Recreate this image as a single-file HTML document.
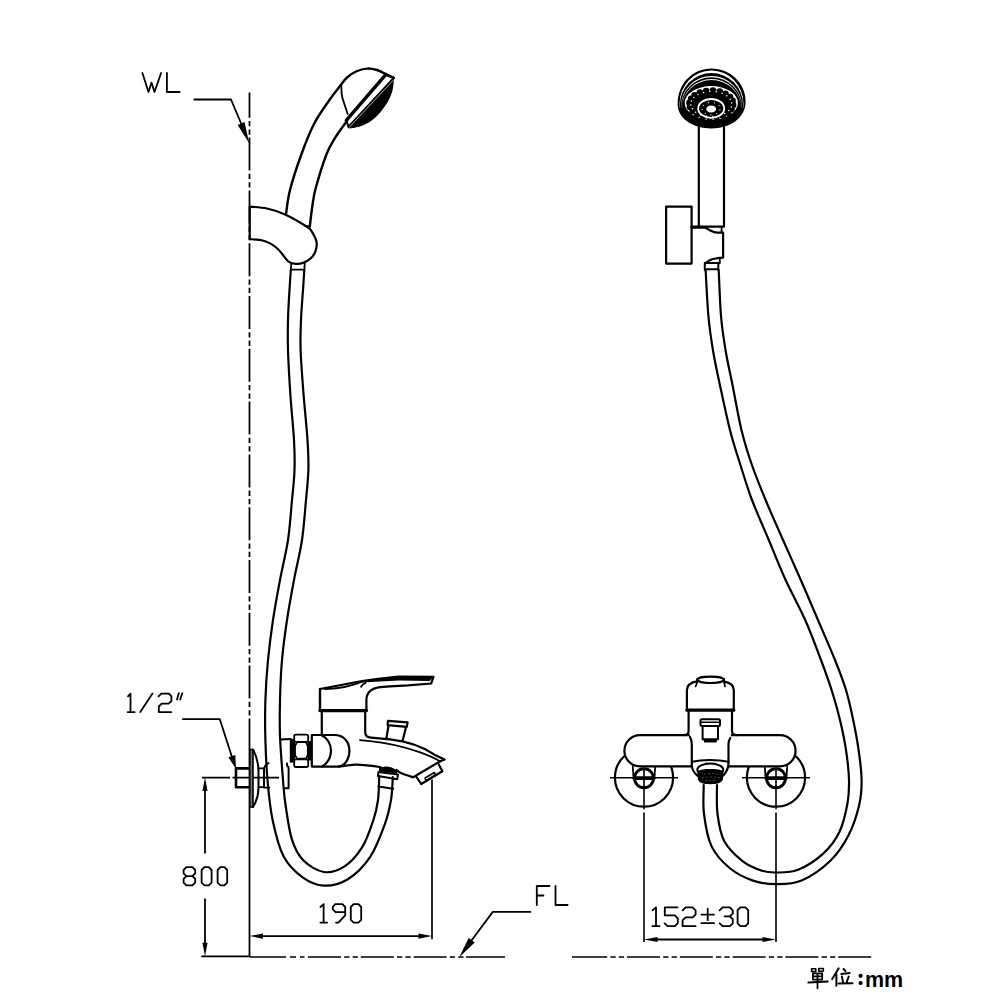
<!DOCTYPE html>
<html><head><meta charset="utf-8"><style>
html,body{margin:0;padding:0;background:#fff;width:1000px;height:1000px;overflow:hidden}
svg{display:block}
</style></head><body>
<svg width="1000" height="1000" viewBox="0 0 1000 1000" stroke-linecap="round" stroke-linejoin="round">
<rect width="1000" height="1000" fill="#fff"/>
<path d="M249.5,92.5V117.8M249.5,121.0V126.3M249.5,129.4V134.7M249.5,137.6V170.6M249.5,173.8V179.1M249.5,182.2V187.5M249.5,190.4V223.4M249.5,226.6V231.9M249.5,235.0V240.3M249.5,243.2V276.2M249.5,279.4V284.7M249.5,287.8V293.1M249.5,296.0V329.0M249.5,332.2V337.5M249.5,340.6V345.9M249.5,348.8V381.8M249.5,385.0V390.3M249.5,393.4V398.7M249.5,401.6V434.6M249.5,437.8V443.1M249.5,446.2V451.5M249.5,454.4V487.4M249.5,490.6V495.9M249.5,499.0V504.3M249.5,507.2V540.2M249.5,543.4V548.7M249.5,551.8V557.1M249.5,560.0V593.0M249.5,596.2V601.5M249.5,604.6V609.9M249.5,612.8V645.8M249.5,649.0V654.3M249.5,657.4V662.7M249.5,665.6V698.6M249.5,701.8V707.1M249.5,710.2V715.5M249.5,718.4V749.0" fill="none" stroke="#000" stroke-width="1.8" stroke-linecap="butt"/>
<path d="M249.5,749V957" fill="none" stroke="#000" stroke-width="1.8" stroke-linecap="butt"/>
<path d="M142.4,73.0 L148.5,92.0 L151.5,82.6 L154.5,92.0 L161.1,73.0" fill="none" stroke="#000" stroke-width="1.8" />
<path d="M166.9,73.0 L166.9,92.0 L179.6,92.0" fill="none" stroke="#000" stroke-width="1.8" />
<path d="M194.3,99.5 L231.0,99.5 L246.0,135.0" fill="none" stroke="#000" stroke-width="1.8" />
<path d="M249.3,143.4 L237.7,124.9 L244.5,122.1Z" fill="#000" stroke="none" />
<path d="M286.0,214.4 C286.7,210.3 287.4,200.1 290.0,190.0 C292.6,179.9 297.5,165.0 301.5,154.0 C305.5,143.0 309.4,133.0 314.0,124.0 C318.6,115.0 325.1,106.3 329.4,100.0 C333.7,93.7 337.1,89.8 340.0,86.0 C342.9,82.2 344.3,79.9 347.0,77.5 C349.7,75.1 352.7,73.0 356.0,71.5 C359.3,70.0 363.5,68.8 367.0,68.6 C370.5,68.3 373.8,69.1 377.0,70.0 C380.2,70.9 383.2,72.9 386.0,74.2 C388.8,75.5 392.6,77.4 393.9,78.0" fill="none" stroke="#000" stroke-width="2.4" />
<path d="M309.8,226.5 C310.2,222.9 311.5,211.6 312.5,205.0 C313.5,198.4 313.6,195.5 316.0,187.0 C318.4,178.5 323.4,162.2 326.6,154.0 C329.8,145.8 331.6,143.5 335.0,138.0 C338.4,132.5 345.0,123.8 347.0,121.0" fill="none" stroke="#000" stroke-width="2.4" />
<path d="M341.4,86.0 C341.5,87.8 341.1,91.8 342.1,96.5 C343.2,101.2 346.8,111.1 347.7,114.0" fill="none" stroke="#000" stroke-width="1.8" />
<path d="M385.5,74.8 L346.3,120.3" fill="none" stroke="#000" stroke-width="3.4" />
<path d="M393.5,78.3 L348.6,126.6" fill="none" stroke="#000" stroke-width="2.0" />
<path d="M385.5,74.8 L393.9,78 M346.3,120.3 L348.8,127.5" fill="none" stroke="#000" stroke-width="2.0" />
<path d="M393.9,80.0 C393.7,81.7 393.4,86.8 392.6,90.0 C391.8,93.2 390.9,95.9 389.0,99.5 C387.1,103.1 384.0,107.9 381.0,111.5 C378.0,115.1 374.4,118.5 371.0,121.0 C367.6,123.5 363.9,125.0 360.5,126.2 C357.1,127.4 352.2,128.0 350.5,128.4 L349.5,127 L393,80Z" fill="#000" stroke="none" />
<path d="M393,80.5 L350,126.5" fill="none" stroke="#fff" stroke-width="0.6" />
<path d="M249.7,206.7 C252.6,207.0 261.1,207.2 267.0,208.5 C272.9,209.8 278.4,211.4 285.0,214.4 C291.6,217.4 302.1,223.6 306.6,226.5 C311.1,229.4 310.4,229.3 312.0,231.9 C313.6,234.5 315.9,238.7 316.5,241.8 C317.1,245.0 316.5,248.1 315.6,250.8 C314.7,253.5 313.2,256.0 311.1,258.0 C309.0,260.0 305.6,261.9 303.0,262.9 C300.4,263.9 298.2,264.1 295.8,263.9 C293.4,263.7 290.7,263.0 288.6,261.6 C286.5,260.2 285.0,257.4 283.2,255.3 C281.4,253.2 279.9,250.9 277.8,249.0 C275.7,247.1 273.2,245.0 270.6,243.6 C268.1,242.2 266.0,241.2 262.5,240.5 C259.0,239.8 251.8,239.3 249.7,239.1 L249.7,206.7" fill="none" stroke="#000" stroke-width="2.2" />
<path d="M305.5,226 L309.8,226.5" fill="none" stroke="#000" stroke-width="2.2" />
<path d="M291.3,263.4 L290.8,270 M304.8,263.4 L304.3,270 M291,269.7 L304.5,269.7" fill="none" stroke="#000" stroke-width="1.8" />
<path d="M290.8,270.0 C290.6,273.3 290.0,281.7 289.5,290.0 C289.0,298.3 288.2,310.0 288.0,320.0 C287.8,330.0 287.6,337.5 288.0,350.0 C288.4,362.5 289.4,380.0 290.4,395.0 C291.4,410.0 293.3,427.5 294.0,440.0 C294.7,452.5 294.8,460.0 294.5,470.0 C294.2,480.0 293.1,488.3 292.0,500.0 C290.9,511.7 290.0,526.7 288.0,540.0 C286.0,553.3 282.5,566.7 280.0,580.0 C277.5,593.3 275.0,606.7 273.0,620.0 C271.0,633.3 269.3,646.7 268.0,660.0 C266.7,673.3 265.8,686.7 265.4,700.0 C265.0,713.3 265.0,726.7 265.4,740.0 C265.8,753.3 266.3,766.7 267.5,780.0 C268.7,793.3 269.9,807.2 272.6,820.0 C275.3,832.8 278.7,847.2 283.8,856.8 C288.9,866.4 296.3,872.8 303.0,877.6 C309.7,882.4 316.3,885.3 323.8,885.6 C331.3,885.9 340.1,884.0 347.8,879.2 C355.5,874.4 364.1,865.9 370.2,856.8 C376.3,847.7 381.1,834.3 384.6,824.8 C388.1,815.3 389.6,808.0 391.0,800.0 C392.4,792.0 392.5,780.8 392.8,777.0" fill="none" stroke="#000" stroke-width="2.2" />
<path d="M304.3,270.0 C304.1,273.3 303.6,281.7 303.0,290.0 C302.4,298.3 301.4,310.0 301.0,320.0 C300.6,330.0 300.2,337.5 300.6,350.0 C301.0,362.5 302.5,380.0 303.6,395.0 C304.8,410.0 306.7,427.5 307.5,440.0 C308.3,452.5 308.6,460.0 308.4,470.0 C308.1,480.0 307.1,488.3 306.0,500.0 C304.9,511.7 304.0,526.7 302.0,540.0 C300.0,553.3 296.5,566.7 294.0,580.0 C291.5,593.3 289.0,606.7 287.0,620.0 C285.0,633.3 283.2,646.7 282.0,660.0 C280.8,673.3 280.3,687.3 280.0,700.0 C279.7,712.7 279.5,722.7 280.0,736.0 C280.5,749.3 282.1,768.7 283.0,780.0 C283.9,791.3 283.9,794.1 285.4,804.0 C286.9,813.9 288.9,829.9 291.8,839.2 C294.7,848.5 297.7,854.5 303.0,860.0 C308.3,865.5 316.9,870.9 323.8,872.0 C330.7,873.1 338.2,870.5 344.6,866.4 C351.0,862.3 357.4,854.9 362.2,847.2 C367.0,839.5 370.8,827.9 373.4,820.0 C376.0,812.1 377.0,807.3 378.0,800.0 C379.0,792.7 379.0,780.0 379.2,776.0" fill="none" stroke="#000" stroke-width="2.2" />
<path d="M128.0,696.4 L130.5,693.6 L130.5,712.1 M127.7,712.1H134.7" fill="none" stroke="#000" stroke-width="1.8" />
<path d="M140.3,712.1 L152.5,693.6" fill="none" stroke="#000" stroke-width="1.8" />
<path d="M158.5,696.4 L161.3,693.6 L169.0,693.6 L171.4,696.4 L171.4,701.0 L168.6,703.7 L161.6,703.7 L158.8,706.5 L158.8,712.1 L171.4,712.1" fill="none" stroke="#000" stroke-width="1.8" />
<path d="M177,699.5 L178.8,693.2 M180.2,699.5 L182.3,693.2" fill="none" stroke="#000" stroke-width="1.8" />
<path d="M182.9,719.2 L219.8,719.2 L232.0,757.0" fill="none" stroke="#000" stroke-width="1.8" />
<path d="M236.0,769.0 L228.3,757.2 L235.3,754.9Z" fill="#000" stroke="none" />
<path d="M202,777.7H230 M232.5,777.7H279" fill="none" stroke="#000" stroke-width="1.7" stroke-linecap="butt"/>
<path d="M249.5,768.4 H236 V787.2 H249.5" fill="none" stroke="#000" stroke-width="2.6" />
<rect x="249.8" y="749.5" width="3.2" height="57.5" fill="#777" stroke="#000" stroke-width="1.6"/>
<path d="M253,749.5 C256,755 258.5,762 258.5,772 L258.5,788 C258.5,796 256,802 253,807" fill="none" stroke="#000" stroke-width="2.0" />
<path d="M258.5,768.4 H264 V787.2 H258.5" fill="none" stroke="#000" stroke-width="1.8" />
<path d="M264,787.6 V768.2 C265,765.5 266.5,763.8 268.6,763.2 M264,787.6 H269.3" fill="none" stroke="#000" stroke-width="1.8" />
<path d="M280.6,739.4 L291,739 M287,763.4 L287,765.5 L288.6,767.4 L288.6,788.2 L284.6,788.2" fill="none" stroke="#000" stroke-width="2.0" />
<path d="M289.8,739 H295 V762.6 H289.8Z" fill="#000" stroke="none" />
<path d="M307.6,741 H312 V760.5 H307.6Z" fill="#000" stroke="none" />
<path d="M296,734.6 H306.5 Q308.2,734.6 308.2,736.5 V740 Q308.2,741.8 306.5,741.8 H296 Q294.2,741.8 294.2,740 V736.5 Q294.2,734.6 296,734.6Z" fill="none" stroke="#000" stroke-width="1.8" />
<path d="M297,742.2 H306 L307.8,746 V755 L306,758.6 H297 L295,755 V746Z" fill="none" stroke="#000" stroke-width="1.8" />
<path d="M296,759.4 H306.5 Q308.2,759.4 308.2,761.2 V765.2 Q308.2,767 306.5,767 H296 Q294.2,767 294.2,765.2 V761.2 Q294.2,759.4 296,759.4Z" fill="none" stroke="#000" stroke-width="1.8" />
<path d="M311.8,735 H334.2 C345,735 349.4,743 349.4,750.6 C349.4,759 345,766.6 337,766.6 H311.8Z" fill="none" stroke="#000" stroke-width="2.2" />
<path d="M321.4,735 C327,738 331,744 331,750.6 C331,758 327,763.5 322,766.6" fill="none" stroke="#000" stroke-width="2.2" />
<path d="M362,680.6 L398.9,676.5 L433.5,676.9 L429.5,681 L398.9,680.6 L380,681.5 L362,682.4Z" fill="#000" stroke="none" />
<path d="M320.0,689.0 L362.0,681.0 L380.0,678.6 L398.9,676.5 L433.5,676.9 L431.1,683.5 L408.0,685.3 L390.0,686.3 L380.0,687.2" fill="none" stroke="#000" stroke-width="2.2" />
<path d="M380,687.2 C375,688 372.4,689 370,691 C367,694 366.4,697 366.4,700 V710.6" fill="none" stroke="#000" stroke-width="2.2" />
<path d="M320,689 V710.6" fill="none" stroke="#000" stroke-width="2.4" />
<path d="M320,710.6 H366.4" fill="none" stroke="#000" stroke-width="3.4" />
<path d="M325,689.2 C338,688.4 352,686.2 362,681.6 M361,686.8 C362,685 363.5,683.5 365.5,682.8" fill="none" stroke="#000" stroke-width="1.8" />
<path d="M321.8,710.6 V735" fill="none" stroke="#000" stroke-width="2.2" />
<path d="M365.2,710.6 V732 C365.2,735.5 367.5,737.4 371,737.6 L390,739.4 C405,741 420,745 434,754.4 L444.4,759.6" fill="none" stroke="#000" stroke-width="2.2" />
<path d="M360,740.2 L370,741.2 C386,742.8 402,746.4 418,751.6 C428,755 434,757.5 440.4,761.6" fill="none" stroke="#000" stroke-width="1.8" />
<path d="M444.4,759.6 L439.6,761.6 L413.2,777.2" fill="none" stroke="#000" stroke-width="2.2" />
<path d="M416.4,776.8 L421.2,784.0 L442.4,771.2 L438.8,764.4" fill="none" stroke="#000" stroke-width="2.2" />
<path d="M425.0,778.0 L434.5,772.5 L435.5,775.0 L426.0,780.6Z" fill="none" stroke="#000" stroke-width="1.6" />
<path d="M339.0,766.6 C341.7,766.3 349.8,764.8 355.0,764.6 C360.2,764.4 365.8,765.2 370.0,765.6 C374.2,766.0 378.7,766.9 380.4,767.2" fill="none" stroke="#000" stroke-width="2.2" />
<path d="M396.4,770.0 C397.3,770.6 399.2,772.4 402.0,773.6 C404.8,774.8 411.3,776.6 413.2,777.2" fill="none" stroke="#000" stroke-width="2.2" />
<path d="M388.0,720.8 L407.6,722.4 L406.8,726.8 L387.6,725.2Z" fill="none" stroke="#000" stroke-width="2.2" />
<path d="M388.5,725.5 L386.4,738.5 M406,727 L402.8,740" fill="none" stroke="#000" stroke-width="2.2" />
<path d="M379,768.5 C383,765.8 391,765.5 397.5,771 L397,773.5 L379,771.5Z" fill="#000" stroke="none" />
<path d="M378.4,772 L398,774.4 L397.2,779.2 L378,776Z" fill="none" stroke="#000" stroke-width="2.0" />
<path d="M378.3,786.4 L393.2,788.8" fill="none" stroke="#000" stroke-width="2.0" />
<path d="M432,779.6 V939.2" fill="none" stroke="#000" stroke-width="1.7" stroke-linecap="butt"/>
<path d="M205,790 V853.6 M205,898.4 V943" fill="none" stroke="#000" stroke-width="1.8" stroke-linecap="butt"/>
<path d="M205.0,777.6 L207.6,791.1 L202.4,791.1Z" fill="#000" stroke="none" />
<path d="M205.0,956.3 L202.4,942.8 L207.6,942.8Z" fill="#000" stroke="none" />
<path d="M202,956.3 H249.5" fill="none" stroke="#000" stroke-width="1.8" />
<path d="M186.4,867.2 L192.4,867.2 L195.2,870.0 L195.2,873.3 L192.4,876.1 L186.4,876.1 L183.6,873.3 L183.6,870.0Z M186.4,876.1 L192.4,876.1 L195.2,878.9 L195.2,882.6 L192.4,885.4 L186.4,885.4 L183.6,882.6 L183.6,878.9Z" fill="none" stroke="#000" stroke-width="1.8" />
<path d="M204.4,867.2 L208.8,867.2 L211.6,870.0 L211.6,882.6 L208.8,885.4 L204.4,885.4 L201.6,882.6 L201.6,870.0Z" fill="none" stroke="#000" stroke-width="1.8" />
<path d="M220.4,867.2 L224.4,867.2 L227.2,870.0 L227.2,882.6 L224.4,885.4 L220.4,885.4 L217.6,882.6 L217.6,870.0Z" fill="none" stroke="#000" stroke-width="1.8" />
<path d="M262,936.1 H419" fill="none" stroke="#000" stroke-width="1.8" />
<path d="M249.5,936.1 L263.0,933.5 L263.0,938.7Z" fill="#000" stroke="none" />
<path d="M432.0,936.1 L418.5,938.7 L418.5,933.5Z" fill="#000" stroke="none" />
<path d="M320.4,907.0 L323.6,904.2 L323.6,922.6 M320.4,922.6H327.2" fill="none" stroke="#000" stroke-width="1.8" />
<path d="M345.2,912.2 L335.6,912.2 L332.8,909.4 L332.8,907.0 L335.2,904.2 L342.4,904.2 L345.2,907.0 L345.2,915.4 L338.4,922.6 L336.0,922.6" fill="none" stroke="#000" stroke-width="1.8" />
<path d="M353.6,904.2 L358.4,904.2 L361.2,907.0 L361.2,919.8 L358.4,922.6 L353.6,922.6 L350.8,919.8 L350.8,907.0Z" fill="none" stroke="#000" stroke-width="1.8" />
<path d="M536.8,905 V886 H549.5 M536.8,895.5 H543.4" fill="none" stroke="#000" stroke-width="1.8" />
<path d="M555.5,886 V905 H567.6" fill="none" stroke="#000" stroke-width="1.8" />
<path d="M530.4,911.9 L492.8,911.9 L470.0,942.5" fill="none" stroke="#000" stroke-width="1.8" />
<path d="M459.2,957.2 L468.7,938.1 L474.7,942.5Z" fill="#000" stroke="none" />
<path d="M249.5,957H286.0M290.0,957H296.0M300.0,957H304.5M308.0,957.0H341.0M344.2,957.0H349.5M352.6,957.0H357.9M360.8,957.0H393.8M397.0,957.0H402.3M405.4,957.0H410.7M413.6,957.0H446.6M449.8,957.0H455.1M458.2,957.0H463.5M466.4,957.0H499.4M502.6,957.0H505.0M466,957H505" fill="none" stroke="#000" stroke-width="1.5" stroke-linecap="butt"/>
<path d="M574.2,957.0H607.2M610.4,957.0H615.7M618.8,957.0H624.1M627.0,957.0H660.0M663.2,957.0H668.5M671.6,957.0H676.9M679.8,957.0H712.8M716.0,957.0H721.3M724.4,957.0H729.7M732.6,957.0H765.6M768.8,957.0H774.1M777.2,957.0H782.5M785.4,957.0H818.4M821.6,957.0H826.9M830.0,957.0H835.3M838.2,957.0H871.2M572,957H574.2" fill="none" stroke="#000" stroke-width="1.5" stroke-linecap="butt"/>
<path d="M677.6,103.8 C677.6,83 693,68.4 711.5,68.4 C730,68.4 745.6,83 745.6,101.5 C745.6,118 730,128.4 711.5,128.4 C693,128.4 677.6,119 677.6,103.8Z" fill="#000" stroke="none" />
<clipPath id="hc"><path d="M677.6,103.8 C677.6,83 693,68.4 711.5,68.4 C730,68.4 745.6,83 745.6,101.5 C745.6,118 730,128.4 711.5,128.4 C693,128.4 677.6,119 677.6,103.8Z"/></clipPath>
<clipPath id="hc2"><path d="M660,50 H760 V108 H660Z"/></clipPath>
<g clip-path="url(#hc)"><g clip-path="url(#hc2)">
<path d="M679.50,103.80 A32.00,33.40 0 1 0 743.50,103.80 A32.00,33.40 0 1 0 679.50,103.80ZM679.90,105.00 A31.60,32.00 0 1 0 743.10,105.00 A31.60,32.00 0 1 0 679.90,105.00Z" fill="#fff" fill-rule="evenodd"/>
<path d="M680.90,106.50 A30.60,30.50 0 1 0 742.10,106.50 A30.60,30.50 0 1 0 680.90,106.50ZM681.10,107.20 A30.40,30.00 0 1 0 741.90,107.20 A30.40,30.00 0 1 0 681.10,107.20Z" fill="#fff" fill-rule="evenodd"/>
<path d="M681.90,108.00 A29.60,29.00 0 1 0 741.10,108.00 A29.60,29.00 0 1 0 681.90,108.00ZM682.05,108.50 A29.45,28.50 0 1 0 740.95,108.50 A29.45,28.50 0 1 0 682.05,108.50Z" fill="#fff" fill-rule="evenodd"/>
</g></g>
<ellipse cx="711.3" cy="102.9" rx="26.6" ry="16.8" fill="#fff"/>
<ellipse cx="711.3" cy="104.6" rx="21.0" ry="13.2" fill="#000"/>
<circle cx="733.1" cy="105.1" r="3.3" fill="#000"/>
<circle cx="731.5" cy="109.1" r="3.3" fill="#000"/>
<circle cx="728.0" cy="112.7" r="3.3" fill="#000"/>
<circle cx="722.7" cy="115.4" r="3.3" fill="#000"/>
<circle cx="716.4" cy="117.0" r="3.3" fill="#000"/>
<circle cx="709.6" cy="117.4" r="3.3" fill="#000"/>
<circle cx="702.9" cy="116.4" r="3.3" fill="#000"/>
<circle cx="697.1" cy="114.2" r="3.3" fill="#000"/>
<circle cx="692.6" cy="111.0" r="3.3" fill="#000"/>
<circle cx="690.0" cy="107.1" r="3.3" fill="#000"/>
<circle cx="689.5" cy="102.9" r="3.3" fill="#000"/>
<circle cx="691.1" cy="98.9" r="3.3" fill="#000"/>
<circle cx="694.6" cy="95.3" r="3.3" fill="#000"/>
<circle cx="699.9" cy="92.6" r="3.3" fill="#000"/>
<circle cx="706.2" cy="91.0" r="3.3" fill="#000"/>
<circle cx="713.0" cy="90.6" r="3.3" fill="#000"/>
<circle cx="719.7" cy="91.6" r="3.3" fill="#000"/>
<circle cx="725.5" cy="93.8" r="3.3" fill="#000"/>
<circle cx="730.0" cy="97.0" r="3.3" fill="#000"/>
<circle cx="732.6" cy="100.9" r="3.3" fill="#000"/>
<circle cx="731.2" cy="106.9" r="0.75" fill="#fff"/>
<circle cx="728.8" cy="110.6" r="0.75" fill="#fff"/>
<circle cx="724.6" cy="113.6" r="0.75" fill="#fff"/>
<circle cx="719.1" cy="115.6" r="0.75" fill="#fff"/>
<circle cx="712.9" cy="116.6" r="0.75" fill="#fff"/>
<circle cx="706.5" cy="116.3" r="0.75" fill="#fff"/>
<circle cx="700.6" cy="114.7" r="0.75" fill="#fff"/>
<circle cx="695.7" cy="112.2" r="0.75" fill="#fff"/>
<circle cx="692.4" cy="108.8" r="0.75" fill="#fff"/>
<circle cx="690.9" cy="105.0" r="0.75" fill="#fff"/>
<circle cx="691.4" cy="101.1" r="0.75" fill="#fff"/>
<circle cx="693.8" cy="97.4" r="0.75" fill="#fff"/>
<circle cx="698.0" cy="94.4" r="0.75" fill="#fff"/>
<circle cx="703.5" cy="92.4" r="0.75" fill="#fff"/>
<circle cx="709.7" cy="91.4" r="0.75" fill="#fff"/>
<circle cx="716.1" cy="91.7" r="0.75" fill="#fff"/>
<circle cx="722.0" cy="93.3" r="0.75" fill="#fff"/>
<circle cx="726.9" cy="95.8" r="0.75" fill="#fff"/>
<circle cx="730.2" cy="99.2" r="0.75" fill="#fff"/>
<circle cx="731.7" cy="103.0" r="0.75" fill="#fff"/>
<ellipse cx="711.2" cy="108.4" rx="13.0" ry="9.4" fill="none" stroke="#fff" stroke-width="1.8"/>
<ellipse cx="711.2" cy="109.0" rx="5.0" ry="3.5" fill="#fff"/>
<circle cx="720.0" cy="109.9" r="0.6" fill="#fff"/>
<circle cx="716.7" cy="113.6" r="0.6" fill="#fff"/>
<circle cx="710.9" cy="114.9" r="0.6" fill="#fff"/>
<circle cx="705.2" cy="113.3" r="0.6" fill="#fff"/>
<circle cx="702.3" cy="109.5" r="0.6" fill="#fff"/>
<circle cx="703.6" cy="105.3" r="0.6" fill="#fff"/>
<circle cx="708.4" cy="102.6" r="0.6" fill="#fff"/>
<circle cx="714.6" cy="102.8" r="0.6" fill="#fff"/>
<circle cx="719.1" cy="105.6" r="0.6" fill="#fff"/>
<path d="M698.8,127 V226.5 M724,127 V226.5 M691.6,226.7 H724" fill="none" stroke="#000" stroke-width="2.2" />
<path d="M666.1,206.7 H691.6 V263.6 H666.1Z" fill="none" stroke="#000" stroke-width="2.2" />
<path d="M691.6,227.6 H704.8 C707,228 708,229.5 710.2,230.6 C713,232 715,232.7 717.4,232.7 L723.1,232.6 V257.6 L717.4,258.2 C715,258.6 712.5,259 710.2,260 C708,261 707,262.5 705.4,263" fill="none" stroke="#000" stroke-width="2.2" />
<path d="M721.6,226.7 V232 M719.8,258.5 V263.3" fill="none" stroke="#000" stroke-width="1.8" />
<path d="M704.8,263 H718.3 M704.8,269.3 H718.3 M704.8,263 V270 M718.3,263 V270" fill="none" stroke="#000" stroke-width="2.0" />
<path d="M705.6,270.0 C706.1,277.7 707.2,302.6 708.4,316.0 C709.6,329.4 711.1,339.0 713.0,350.5 C714.9,362.0 717.0,371.6 719.9,385.0 C722.8,398.4 726.8,417.6 730.2,431.0 C733.7,444.4 737.0,454.0 740.6,465.5 C744.2,477.0 747.3,487.6 752.0,500.0 C756.7,512.4 763.2,526.7 768.8,540.0 C774.4,553.3 779.5,566.7 785.6,580.0 C791.7,593.3 799.3,606.7 805.2,620.0 C811.1,633.3 816.6,648.3 821.0,660.0 C825.4,671.7 828.4,680.0 831.6,690.0 C834.8,700.0 837.6,710.0 840.0,720.0 C842.4,730.0 844.5,740.0 846.0,750.0 C847.5,760.0 848.8,771.1 849.0,780.0 C849.2,788.9 849.1,794.5 847.5,803.2 C845.9,811.9 843.4,823.6 839.4,832.0 C835.4,840.4 830.1,847.3 823.2,853.6 C816.3,859.9 805.8,866.6 798.0,869.8 C790.2,872.9 782.4,872.4 776.4,872.5 C770.4,872.6 767.7,872.7 762.0,870.7 C756.3,868.8 748.5,865.8 742.2,860.8 C735.9,855.8 728.3,848.8 724.2,841.0 C720.1,833.2 718.7,823.3 717.5,814.0 C716.3,804.7 717.1,789.8 717.0,785.0" fill="none" stroke="#000" stroke-width="2.2" />
<path d="M718.7,270.0 C719.1,277.7 719.9,302.6 721.0,316.0 C722.1,329.4 723.7,339.0 725.6,350.5 C727.5,362.0 729.8,371.6 732.5,385.0 C735.2,398.4 738.4,417.6 741.7,431.0 C745.0,444.4 748.1,454.0 752.1,465.5 C756.1,477.0 760.5,487.6 765.6,500.0 C770.8,512.4 777.1,526.7 783.0,540.0 C788.9,553.3 795.0,566.7 800.8,580.0 C806.6,593.3 812.3,606.7 818.0,620.0 C823.7,633.3 830.3,648.3 835.0,660.0 C839.7,671.7 843.0,680.0 846.0,690.0 C849.0,700.0 851.1,710.0 853.2,720.0 C855.3,730.0 857.2,740.0 858.6,750.0 C860.0,760.0 861.5,770.8 861.6,780.0 C861.7,789.2 861.4,795.7 859.2,805.0 C857.0,814.3 853.2,826.3 848.4,835.6 C843.6,844.9 838.2,853.3 830.4,860.8 C822.6,868.3 810.6,876.7 801.6,880.6 C792.6,884.5 784.5,884.2 776.4,884.2 C768.3,884.2 760.8,883.3 753.0,880.6 C745.2,877.9 736.5,873.7 729.6,868.0 C722.7,862.3 715.9,855.4 711.6,846.4 C707.3,837.4 705.3,824.2 704.0,814.0 C702.7,803.8 703.8,789.8 703.7,785.0" fill="none" stroke="#000" stroke-width="2.2" />
<circle cx="644.0" cy="777.6" r="29.1" fill="none" stroke="#000" stroke-width="2.2"/>
<circle cx="776.0" cy="777.6" r="29.1" fill="none" stroke="#000" stroke-width="2.2"/>
<path d="M640,735.1 H780 A15.6,15.6 0 0 1 780,766.3 H640 A15.6,15.6 0 0 1 640,735.1Z" fill="#fff" stroke="#000" stroke-width="2.2" />
<path d="M689.7,711 V737.4 H730.9 V711Z" fill="#fff" stroke="none"/>
<path d="M684,735.1 C687,735.1 688.6,733.5 688.6,731 V711 M737,735.1 C734,735.1 732,733.5 732,731 V711" fill="none" stroke="#000" stroke-width="2.2" />
<path d="M686.9,710.2 V690 C686.9,685.5 691,682.5 697,681.4 M723.8,681.4 C729.5,682.5 733.8,685.5 733.8,690 V710.2" fill="none" stroke="#000" stroke-width="2.2" />
<path d="M686.9,710.2 H733.8" fill="none" stroke="#000" stroke-width="3.2" />
<path d="M697.4,678.6 C697.5,682 697,684 695.6,686.4 M724,678.6 C724,682 724.3,684 725,686.4" fill="none" stroke="#000" stroke-width="1.8" />
<ellipse cx="710.6" cy="679.8" rx="13.2" ry="3.2" fill="none" stroke="#000" stroke-width="2.2"/>
<path d="M702,719.2 H718.5 Q720,719.2 720,720.8 V724.5 Q720,726 718.5,726 H702 Q700.5,726 700.5,724.5 V720.8 Q700.5,719.2 702,719.2Z" fill="none" stroke="#000" stroke-width="2.0" />
<path d="M701.5,722.3 H719" fill="none" stroke="#000" stroke-width="1.4" />
<path d="M702.6,726 V739.2 H718 V726" fill="none" stroke="#000" stroke-width="2.0" />
<path d="M703.4,739.2 H717.2 L716.5,742.4 H704.2Z" fill="#000" stroke="none" />
<path d="M691.8,744 V765 C692,770 694,773 697.4,775.5 L723.3,775.5 C726.5,773 728.5,770 728.5,762.9 V744Z" fill="#fff"/>
<path d="M690,737 C691.2,739 691.8,741.5 691.8,744 V765 C692,770 694,773 697.4,775.5" fill="none" stroke="#000" stroke-width="2.2" />
<path d="M730.3,738 C729,740 728.5,742 728.5,744 V762.9 C728.5,768 726.5,772 723.3,775.5" fill="none" stroke="#000" stroke-width="2.2" />
<path d="M692,761.8 C698,760.4 704,760 710,760 C716,760 722,760.4 728.4,761.8" fill="none" stroke="#000" stroke-width="2.0" />
<ellipse cx="710.3" cy="769.8" rx="13" ry="6.2" fill="none" stroke="#000" stroke-width="2.0"/>
<path d="M697.4,771.5 C700,769.5 705,769 710.3,769 C716,769 721,769.5 723.4,771.5 L723,779 C722,782.5 718,784.2 710.3,784.2 C702.5,784.2 698.5,782.5 697.8,779Z" fill="#000" stroke="none" />
<circle cx="705" cy="774" r="0.6" fill="#888"/>
<circle cx="709" cy="773.5" r="0.6" fill="#888"/>
<circle cx="713" cy="773.5" r="0.6" fill="#888"/>
<circle cx="717" cy="774" r="0.6" fill="#888"/>
<circle cx="703" cy="777.5" r="0.6" fill="#888"/>
<circle cx="707" cy="777" r="0.6" fill="#888"/>
<circle cx="711" cy="777" r="0.6" fill="#888"/>
<circle cx="715" cy="777" r="0.6" fill="#888"/>
<circle cx="719" cy="777.5" r="0.6" fill="#888"/>
<circle cx="706" cy="780.5" r="0.6" fill="#888"/>
<circle cx="710" cy="780.5" r="0.6" fill="#888"/>
<circle cx="714" cy="780.5" r="0.6" fill="#888"/>
<path d="M632.8,766.5 L633.4,776 M655.2,766.5 L654.6,776" fill="none" stroke="#000" stroke-width="1.8" />
<circle cx="644.0" cy="778.2" r="9.5" fill="none" stroke="#000" stroke-width="2.9"/>
<path d="M634.0,778.1 H654.0" fill="none" stroke="#000" stroke-width="3.6" />
<path d="M610.0,777.7 H678.0" fill="none" stroke="#000" stroke-width="1.6" stroke-linecap="butt"/>
<path d="M644.0,769.5 V809.3 M644.0,812.4 V942" fill="none" stroke="#000" stroke-width="1.6" stroke-linecap="butt"/>
<path d="M764.8,766.5 L765.4,776 M787.2,766.5 L786.6,776" fill="none" stroke="#000" stroke-width="1.8" />
<circle cx="776.0" cy="778.2" r="9.5" fill="none" stroke="#000" stroke-width="2.9"/>
<path d="M766.0,778.1 H786.0" fill="none" stroke="#000" stroke-width="3.6" />
<path d="M742.0,777.7 H810.0" fill="none" stroke="#000" stroke-width="1.6" stroke-linecap="butt"/>
<path d="M776.0,769.5 V809.3 M776.0,812.4 V942" fill="none" stroke="#000" stroke-width="1.6" stroke-linecap="butt"/>
<path d="M657,939.5 H763" fill="none" stroke="#000" stroke-width="1.8" />
<path d="M644.0,939.5 L657.5,936.9 L657.5,942.1Z" fill="#000" stroke="none" />
<path d="M776.0,939.5 L762.5,942.1 L762.5,936.9Z" fill="#000" stroke="none" />
<path d="M652.5,910.2 L656.0,907.4 L656.0,926.2 M652.4,926.2H659.4" fill="none" stroke="#000" stroke-width="1.8" />
<path d="M677.5,907.4 L664.8,907.4 L664.8,915.4 L674.8,915.4 L677.8,918.4 L677.8,923.2 L674.8,926.2 L667.5,926.2 L664.6,923.4" fill="none" stroke="#000" stroke-width="1.8" />
<path d="M682.6,910.3 L685.6,907.4 L692.6,907.4 L695.6,910.3 L695.6,914.6 L692.6,917.4 L685.6,917.4 L682.6,920.3 L682.6,926.2 L695.6,926.2" fill="none" stroke="#000" stroke-width="1.8" />
<path d="M701.4,914.6 H714 M707.7,908.6 V920.2 M701.4,923.2 H714" fill="none" stroke="#000" stroke-width="1.8" />
<path d="M719.6,910.3 L722.6,907.4 L729.8,907.4 L732.8,910.3 L732.8,913.4 L729.8,916.3 L724.5,916.3 M729.8,916.3 L732.8,919.3 L732.8,923.3 L729.8,926.2 L722.6,926.2 L719.6,923.3" fill="none" stroke="#000" stroke-width="1.8" />
<path d="M740.4,907.4 L745.4,907.4 L748.2,910.2 L748.2,923.4 L745.4,926.2 L740.4,926.2 L737.6,923.4 L737.6,910.2Z" fill="none" stroke="#000" stroke-width="1.8" />
<path d="M811.6,968.8 H815.8 V971.6 H811.6Z M818.8,968.5 H823.3 V971.3 H818.8Z" fill="none" stroke="#000" stroke-width="1.6" />
<path d="M812.9,973.4 H822.2 V979.6 H812.9Z M812.9,976.4 H822.2 M817.5,973.4 V988.3" fill="none" stroke="#000" stroke-width="1.8" />
<path d="M808.4,982.6 L827.8,981.4" fill="none" stroke="#000" stroke-width="2.0" />
<path d="M838.6,968.4 L832.2,979.1 M836.4,974.6 V985.8" fill="none" stroke="#000" stroke-width="2.0" />
<path d="M843.5,969 L845.5,971 M841.3,974 L849.6,973 M841.8,976.4 L843,981.8 M848.8,976.4 L846.7,981.8 M838.6,983.5 L852.6,983.2" fill="none" stroke="#000" stroke-width="1.9" />
<circle cx="860.6" cy="975.8" r="2.1" fill="#000"/><circle cx="860.6" cy="983" r="2.1" fill="#000"/>
<text x="865" y="987" font-family="Liberation Sans, sans-serif" font-size="21.5" font-weight="bold" fill="#000">mm</text>
</svg></body></html>
